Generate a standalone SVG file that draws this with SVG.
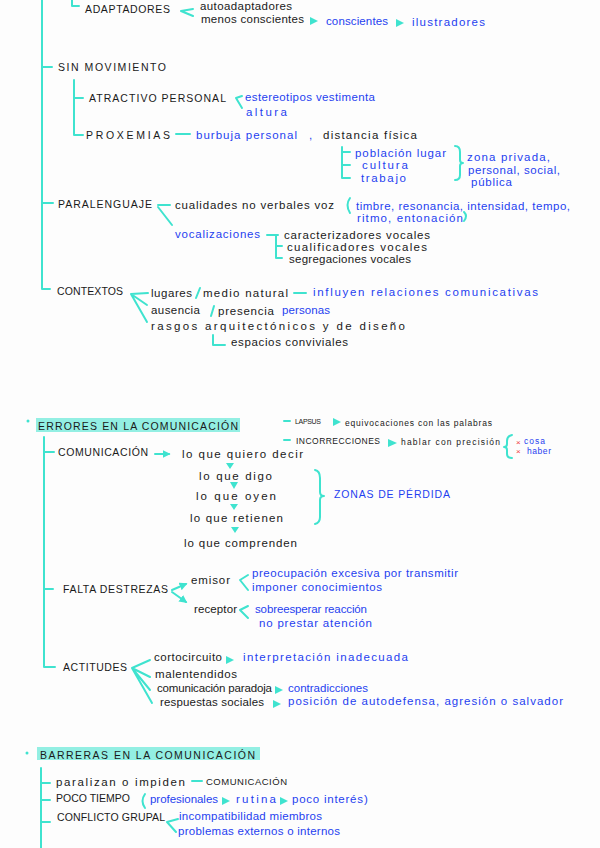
<svg xmlns="http://www.w3.org/2000/svg" width="600" height="848" viewBox="0 0 600 848">
<defs>
<style>
text{font-family:"Liberation Sans","DejaVu Sans",sans-serif;font-size:11.5px;fill:#1a1a1a}
.c{font-size:10.5px}
.c2{font-size:9.5px}
.b{fill:#1f3ff0}
.s{font-size:8.5px}
.xs{font-size:7px}
.r{fill:#f03a3a;font-size:8px}
.ln{stroke:#3fe3cf;stroke-width:2;fill:none;stroke-linecap:round;stroke-linejoin:round}
.tri{fill:#3fe3cf}
.hl{fill:#93efe3}
</style>
<marker id="ah" viewBox="0 0 10 10" refX="8" refY="5" markerWidth="4" markerHeight="4" orient="auto"><path d="M0,0L10,5L0,10z" fill="#3fe3cf"/></marker>
</defs>
<rect width="600" height="848" fill="#fdfdfd"/>

<g id="connectors">
<path class="ln" d="M42,0V289H50"/>
<path class="ln" d="M72,0V6H79"/>
<path class="ln" d="M193,9L181,11L193,16"/>
<path class="ln" d="M42,67H52"/>
<path class="ln" d="M74,80V135H83M74,98H83"/>
<path class="ln" d="M242,96L236,98L242,108"/>
<path class="ln" d="M176,134H190"/>
<path class="ln" d="M342,147V178M342,152H350M342,165H350M342,178H350"/>
<path class="ln" d="M455,146Q460,146 460,152V160Q460,163 463,163Q460,163 460,166V175Q460,180 455,180"/>
<path class="ln" d="M42,203H53"/>
<path class="ln" d="M158,205H170M158,207L172,225"/>
<path class="ln" d="M267,235H278M276,235V258H282M276,246H282"/>
<path class="ln" d="M350,198Q345,205 350,213"/>
<path class="ln" d="M464,212Q468,216 464,221"/>
<path class="ln" d="M148,293L131,294L147,305M131,294L147,322"/>
<path class="ln" d="M200,288L196,298"/>
<path class="ln" d="M294,293H306"/>
<path class="ln" d="M214,306L211,316"/>
<path class="ln" d="M213,335V345H225"/>
<path class="ln" d="M44,437V667H55"/>
<path class="ln" d="M44,452H54"/>
<path class="ln" d="M284,421H290M284,440H290"/>
<path class="ln" d="M155,454H169" marker-end="url(#ah)"/>
<path class="ln" d="M315,470Q320,471 320,478V492Q320,496 324,496Q320,496 320,500V517Q320,523 315,524"/>
<path class="ln" d="M512,435Q507,436 507,441V444Q507,447 504,447Q507,447 507,450V454Q507,458 512,458"/>
<path class="ln" d="M44,589H53"/>
<path class="ln" d="M172,590L186,584" marker-end="url(#ah)"/>
<path class="ln" d="M172,592L186,602" marker-end="url(#ah)"/>
<path class="ln" d="M248,575L240,580L248,590"/>
<path class="ln" d="M248,606L240,610L248,618"/>
<path class="ln" d="M150,660L132,668L150,677M132,668L150,690M132,668L152,703"/>
<path class="ln" d="M41,768V848"/>
<path class="ln" d="M41,783H50M41,800H50M41,822H50"/>
<path class="ln" d="M192,781H202"/>
<path class="ln" d="M145,794Q140,801 145,808"/>
<path class="ln" d="M178,819L167,822L176,832"/>
<path class="tri" d="M310,17L318,21L310,25z"/>
<path class="tri" d="M396,19L404,23L396,27z"/>
<path class="tri" d="M226,463H234L230,469z"/>
<path class="tri" d="M230,482H238L234,489z"/>
<path class="tri" d="M230,504H238L234,510z"/>
<path class="tri" d="M231,527H239L235,533z"/>
<path class="tri" d="M333,418L341,422L333,426z"/>
<path class="tri" d="M388,439L397,443L388,447z"/>
<path class="tri" d="M226,656L234,660L226,664z"/>
<path class="tri" d="M275,686L283,690L275,694z"/>
<path class="tri" d="M273,700L281,704L273,708z"/>
<path class="tri" d="M222,797L230,801L222,805z"/>
<path class="tri" d="M280,797L288,801L280,805z"/>
</g>

<g id="adaptadores">
<text class="c" x="85" y="13" textLength="85">ADAPTADORES</text>
<text x="200" y="10" textLength="92">autoadaptadores</text>
<text x="201" y="23" textLength="103">menos conscientes</text>
<text class="b" x="326" y="25" textLength="62">conscientes</text>
<text class="b" x="412" y="26" textLength="73">ilustradores</text>
</g>

<g id="sin-movimiento">
<text class="c" x="58" y="71" textLength="108">SIN MOVIMIENTO</text>
</g>

<g id="atractivo">
<text class="c" x="89" y="102" textLength="137">ATRACTIVO PERSONAL</text>
<text class="b" x="245" y="101" textLength="130">estereotipos vestimenta</text>
<text class="b" x="246" y="116" textLength="41">altura</text>
</g>

<g id="proxemias">
<text class="c" x="86" y="139" textLength="84">PROXEMIAS</text>
<text class="b" x="196" y="139" textLength="101">burbuja personal</text>
<text class="b" x="309" y="139">,</text>
<text x="323" y="139" textLength="94">distancia física</text>
<text class="b" x="355" y="157" textLength="91">población lugar</text>
<text class="b" x="362" y="169" textLength="46">cultura</text>
<text class="b" x="361" y="182" textLength="45">trabajo</text>
<text class="b" x="467" y="161" textLength="83">zona privada,</text>
<text class="b" x="468" y="174" textLength="92">personal, social,</text>
<text class="b" x="471" y="186" textLength="41">pública</text>
</g>

<g id="paralenguaje">
<text class="c" x="58" y="208" textLength="94">PARALENGUAJE</text>
<text x="175" y="209" textLength="159">cualidades no verbales voz</text>
<text class="b" x="356" y="210" textLength="214">timbre, resonancia, intensidad, tempo,</text>
<text class="b" x="357" y="222" textLength="106">ritmo, entonación</text>
<text class="b" x="175" y="238" textLength="85">vocalizaciones</text>
<text x="284" y="239" textLength="146">caracterizadores vocales</text>
<text x="287" y="251" textLength="140">cualificadores vocales</text>
<text x="289" y="263" textLength="122">segregaciones vocales</text>
</g>

<g id="contextos">
<text class="c" x="57" y="295" textLength="66">CONTEXTOS</text>
<text x="151" y="297" textLength="41">lugares</text>
<text x="203" y="297" textLength="85">medio natural</text>
<text class="b" x="313" y="296" textLength="225">influyen relaciones comunicativas</text>
<text x="151" y="314" textLength="49">ausencia</text>
<text x="218" y="315" textLength="56">presencia</text>
<text class="b" x="282" y="314" textLength="48">personas</text>
<text x="151" y="330" textLength="254">rasgos arquitectónicos y de diseño</text>
<text x="231" y="346" textLength="117">espacios conviviales</text>
</g>

<g id="errores">
<circle cx="28" cy="421" r="1.5" fill="#3fe3cf"/>
<rect class="hl" x="36" y="418" width="204" height="14"/>
<text class="c" x="38" y="430" textLength="200">ERRORES EN LA COMUNICACIÓN</text>
<text class="xs" x="295" y="424" textLength="26">LAPSUS</text>
<text class="s" x="345" y="426" textLength="147">equivocaciones con las palabras</text>
<text class="s" x="296" y="444" textLength="84">INCORRECCIONES</text>
<text class="s" x="401" y="445" textLength="99">hablar con precisión</text>
<text class="r" x="516" y="445">×</text>
<text class="b s" x="524" y="444" textLength="21">cosa</text>
<text class="r" x="516" y="454">×</text>
<text class="b s" x="527" y="454" textLength="24">haber</text>
</g>

<g id="comunicacion">
<text class="c" x="58" y="456" textLength="90">COMUNICACIÓN</text>
<text x="182" y="458" textLength="121">lo que quiero decir</text>
<text x="199" y="480" textLength="73">lo que digo</text>
<text x="196" y="500" textLength="80">lo que oyen</text>
<text x="190" y="522" textLength="93">lo que retienen</text>
<text x="184" y="547" textLength="113">lo que comprenden</text>
<text class="b c" x="334" y="498" textLength="116">ZONAS DE PÉRDIDA</text>
</g>

<g id="falta-destrezas">
<text class="c" x="63" y="593" textLength="105">FALTA DESTREZAS</text>
<text x="191" y="584" textLength="39">emisor</text>
<text class="b" x="252" y="577" textLength="206">preocupación excesiva por transmitir</text>
<text class="b" x="252" y="591" textLength="130">imponer conocimientos</text>
<text x="194" y="613" textLength="43">receptor</text>
<text class="b" x="255" y="613" textLength="112">sobreesperar reacción</text>
<text class="b" x="259" y="627" textLength="113">no prestar atención</text>
</g>

<g id="actitudes">
<text class="c" x="63" y="671" textLength="64">ACTITUDES</text>
<text x="154" y="661" textLength="68">cortocircuito</text>
<text class="b" x="243" y="661" textLength="165">interpretación inadecuada</text>
<text x="155" y="678" textLength="82">malentendidos</text>
<text x="157" y="692" textLength="115">comunicación paradoja</text>
<text class="b" x="288" y="692" textLength="80">contradicciones</text>
<text x="160" y="706" textLength="104">respuestas sociales</text>
<text class="b" x="288" y="705" textLength="275">posición de autodefensa, agresión o salvador</text>
</g>

<g id="barreras">
<circle cx="27" cy="753" r="1.5" fill="#3fe3cf"/>
<rect class="hl" x="37" y="747" width="223" height="13"/>
<text class="c" x="40" y="759" textLength="215">BARRERAS EN LA COMUNICACIÓN</text>
</g>

<g id="paralizan">
<text x="56" y="786" textLength="129">paralizan o impiden</text>
<text class="c2" x="206" y="785" textLength="81">COMUNICACIÓN</text>
</g>

<g id="poco-tiempo">
<text class="c" x="56" y="802" textLength="74">POCO TIEMPO</text>
<text class="b" x="150" y="803" textLength="68">profesionales</text>
<text class="b" x="236" y="803" textLength="40">rutina</text>
<text class="b" x="292" y="803" textLength="71">poco interés</text>
<text class="b" x="364" y="803">)</text>
</g>

<g id="conflicto">
<text class="c" x="57" y="821" textLength="108">CONFLICTO GRUPAL</text>
<text class="b" x="179" y="820" textLength="143">incompatibilidad miembros</text>
<text class="b" x="178" y="835" textLength="162">problemas externos o internos</text>
</g>
</svg>
